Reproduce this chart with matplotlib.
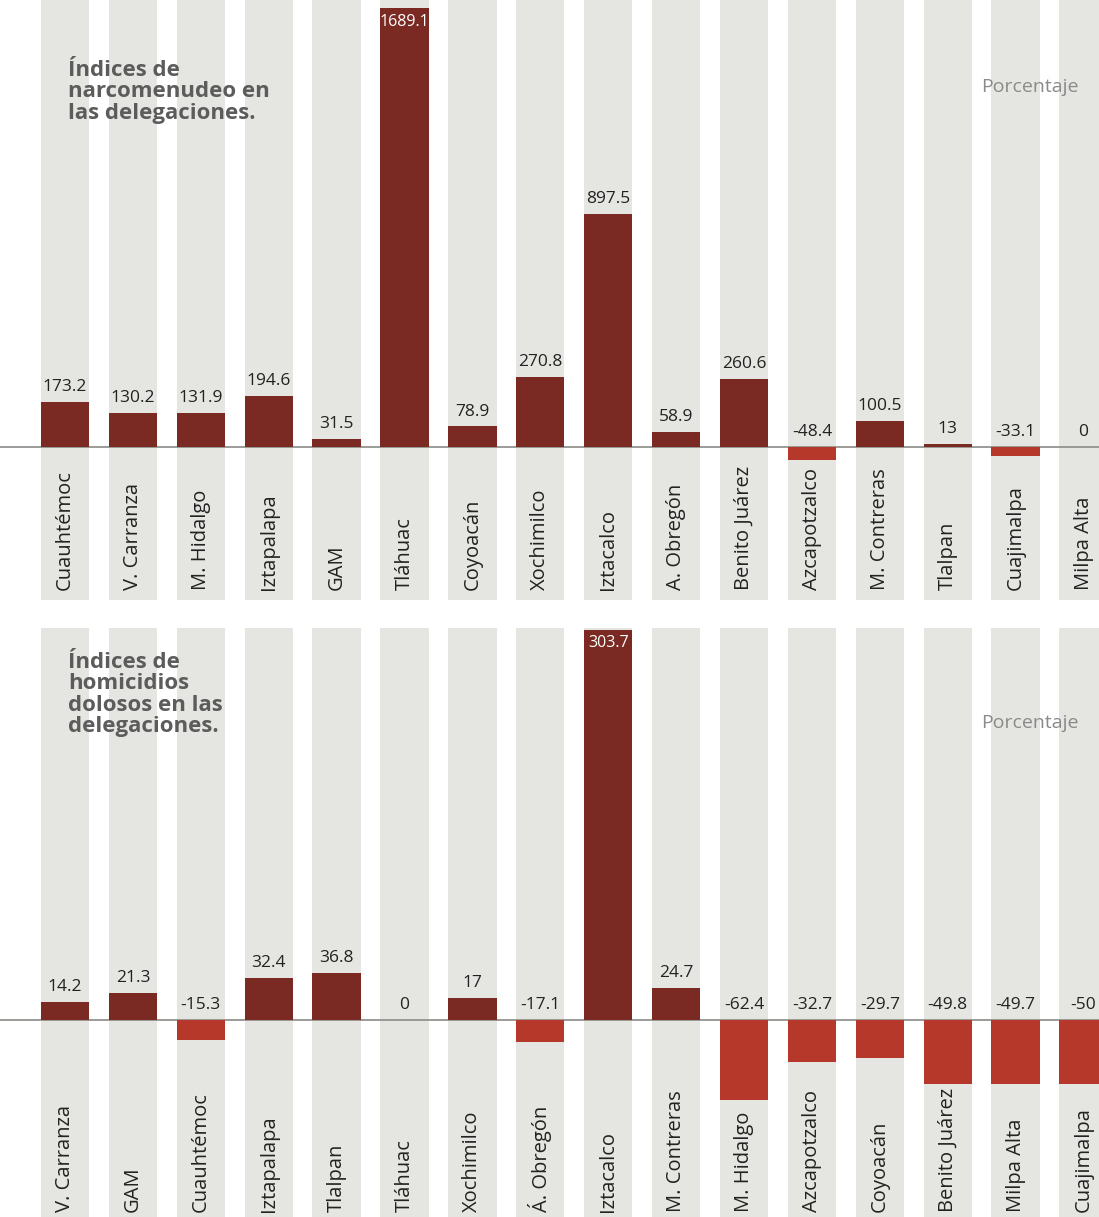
import matplotlib.pyplot as plt

plt.rcParams['font.family'] = ['Open Sans', 'DejaVu Sans']

# Narcomenudeo por delegación (porcentaje)
narco_cats = ['Cuauhtémoc', 'V. Carranza', 'M. Hidalgo', 'Iztapalapa', 'GAM',
              'Tláhuac', 'Coyoacán', 'Xochimilco', 'Iztacalco', 'A. Obregón',
              'Benito Juárez', 'Azcapotzalco', 'M. Contreras', 'Tlalpan',
              'Cuajimalpa', 'Milpa Alta']
narco_vals = [173.2, 130.2, 131.9, 194.6, 31.5, 1689.1, 78.9, 270.8, 897.5,
              58.9, 260.6, -48.4, 100.5, 13, -33.1, 0]
narco_labels = ['173.2', '130.2', '131.9', '194.6', '31.5', '1689.1', '78.9',
                '270.8', '897.5', '58.9', '260.6', '-48.4', '100.5', '13',
                '-33.1', '0']

# Homicidios dolosos por delegación (porcentaje)
homi_cats = ['V. Carranza', 'GAM', 'Cuauhtémoc', 'Iztapalapa', 'Tlalpan',
             'Tláhuac', 'Xochimilco', 'Á. Obregón', 'Iztacalco', 'M. Contreras',
             'M. Hidalgo', 'Azcapotzalco', 'Coyoacán', 'Benito Juárez',
             'Milpa Alta', 'Cuajimalpa']
homi_vals = [14.2, 21.3, -15.3, 32.4, 36.8, 0, 17, -17.1, 303.7, 24.7,
             -62.4, -32.7, -29.7, -49.8, -49.7, -50]
homi_labels = ['14.2', '21.3', '-15.3', '32.4', '36.8', '0', '17', '-17.1',
               '303.7', '24.7', '-62.4', '-32.7', '-29.7', '-49.8', '-49.7', '-50']

POS = '#7a2a22'
NEG = '#b5382b'
STRIPE = '#e5e5e1'
W, H = 1099, 1217
PITCH, X0, BARW = 67.9, 65, 0.71


def panel(fig, top_px, bot_px, base_px, ylim_top, cats, vals, labels,
          title, title_y, pct_y, cat_y, inside):
    ax = fig.add_axes([0, 1 - bot_px / H, 1, (bot_px - top_px) / H])
    k = (base_px - top_px) / ylim_top
    ax.set_ylim(-(bot_px - base_px) / k, ylim_top)
    ax.set_xlim(-X0 / PITCH, (W - X0) / PITCH)
    ax.axis('off')

    # franjas grises de fondo
    for i in range(len(cats)):
        ax.axvspan(i - BARW / 2, i + BARW / 2, color=STRIPE, lw=0, zorder=0)
    ax.axhline(0, color='#8a8a86', lw=1.2, zorder=1)

    colors = [POS if v >= 0 else NEG for v in vals]
    ax.bar(range(len(vals)), vals, width=BARW, color=colors, zorder=2)

    for i, (v, lab) in enumerate(zip(vals, labels)):
        if i == inside:
            ax.annotate(lab, (i, v), xytext=(0, -4), textcoords='offset points',
                        ha='center', va='top', color='white', fontsize=11.5,
                        zorder=3)
        else:
            ax.annotate(lab, (i, max(v, 0)), xytext=(0, 5),
                        textcoords='offset points', ha='center', va='bottom',
                        color='#222222', fontsize=12.5, zorder=3)
        ax.text(i, cat_y, cats[i], rotation=90, ha='center', va='bottom',
                fontsize=14.5, color='#222222', transform=ax.get_xaxis_transform())

    ax.text(68 / W, title_y, title, transform=ax.transAxes, ha='left', va='top',
            fontsize=16, fontweight='bold', color='#5c5c5c', linespacing=1.02)
    ax.text(1030 / W, pct_y, 'Porcentaje', transform=ax.transAxes, ha='center',
            va='center', fontsize=14, color='#8a8a8a')
    return ax


fig = plt.figure(figsize=(W / 100, H / 100), dpi=100)
fig.patch.set_facecolor('white')

panel(fig, 0, 600, 447, 1720, narco_cats, narco_vals, narco_labels,
      'Índices de\nnarcomenudeo en\nlas delegaciones.',
      1 - 60 / 600, 1 - 87 / 600, 10 / 600, 5)

panel(fig, 628, 1217, 1020, 305, homi_cats, homi_vals, homi_labels,
      'Índices de\nhomicidios\ndolosos en las\ndelegaciones.',
      1 - 24 / 589, 1 - 95 / 589, 5 / 589, 8)

fig.savefig('out.png', dpi=100)
